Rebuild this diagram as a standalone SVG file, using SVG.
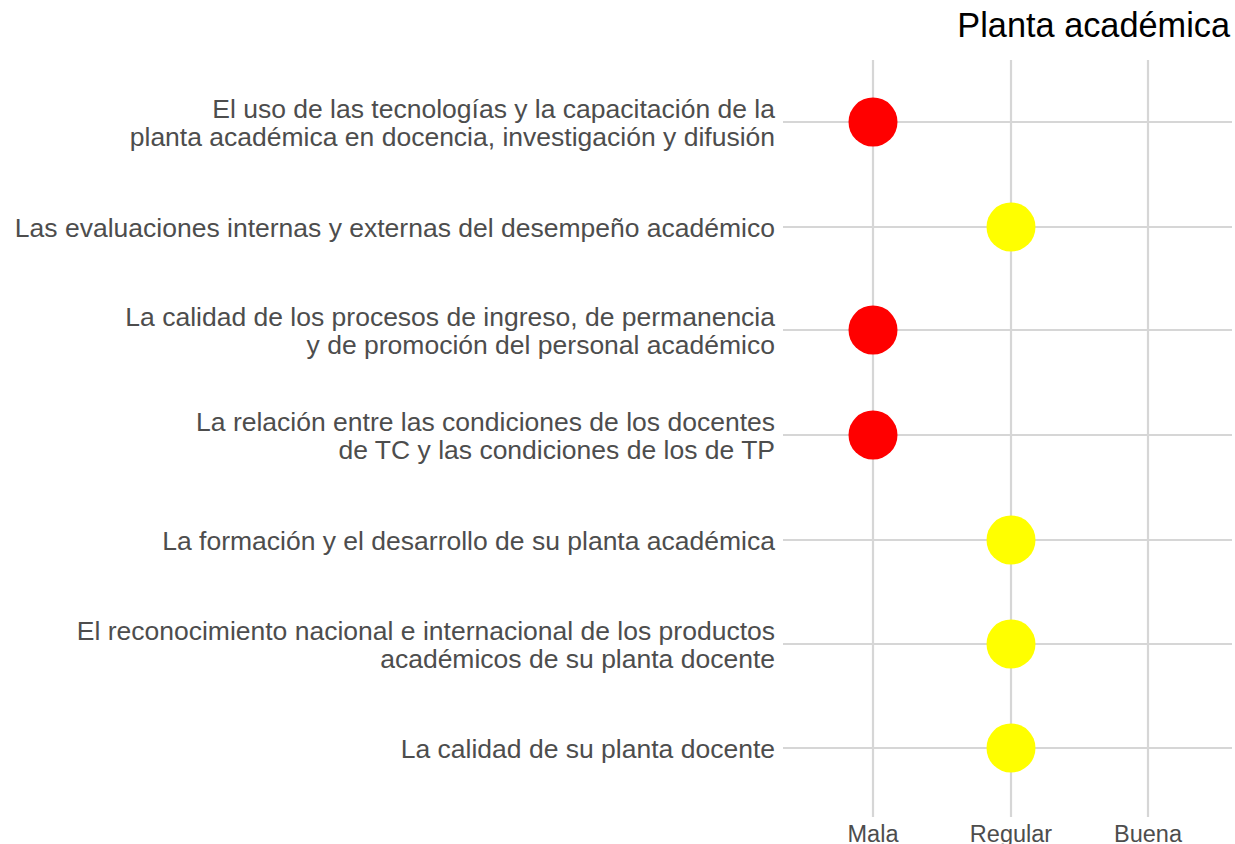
<svg xmlns="http://www.w3.org/2000/svg" width="1235" height="844" viewBox="0 0 1235 844">
<style>
.grid{stroke:#d6d6d6;stroke-width:2.2;fill:none}
.lab{font-family:"Liberation Sans",Arial,sans-serif;font-size:26.5px;fill:#4d4d4d;text-anchor:end}
.ax{font-family:"Liberation Sans",Arial,sans-serif;font-size:23.5px;fill:#4d4d4d;text-anchor:middle}
.title{font-family:"Liberation Sans",Arial,sans-serif;font-size:34.3px;fill:#000;text-anchor:end}
.red{fill:#ff0000}
.yel{fill:#ffff00}
</style>
<rect width="1235" height="844" fill="#fff"/>
<g id="connectors">
<line class="grid" x1="873" y1="60" x2="873" y2="817"/>
<line class="grid" x1="1011" y1="60" x2="1011" y2="817"/>
<line class="grid" x1="1148" y1="60" x2="1148" y2="817"/>
<line class="grid" x1="783" y1="122" x2="1232" y2="122"/>
<line class="grid" x1="783" y1="227" x2="1232" y2="227"/>
<line class="grid" x1="783" y1="330" x2="1232" y2="330"/>
<line class="grid" x1="783" y1="435" x2="1232" y2="435"/>
<line class="grid" x1="783" y1="540" x2="1232" y2="540"/>
<line class="grid" x1="783" y1="644" x2="1232" y2="644"/>
<line class="grid" x1="783" y1="748" x2="1232" y2="748"/>
</g>
<text class="title" x="1230" y="37">Planta académica</text>
<g id="row1"><text class="lab" x="775" y="117.5">El uso de las tecnologías y la capacitación de la</text><text class="lab" x="775" y="146">planta académica en docencia, investigación y difusión</text><circle class="red" cx="873" cy="122" r="24.5"/></g>
<g id="row2"><text class="lab" x="775" y="237">Las evaluaciones internas y externas del desempeño académico</text><circle class="yel" cx="1011" cy="227" r="24.5"/></g>
<g id="row3"><text class="lab" x="775" y="325.5">La calidad de los procesos de ingreso, de permanencia</text><text class="lab" x="775" y="354">y de promoción del personal académico</text><circle class="red" cx="873" cy="330" r="24.5"/></g>
<g id="row4"><text class="lab" x="775" y="430.5">La relación entre las condiciones de los docentes</text><text class="lab" x="775" y="459">de TC y las condiciones de los de TP</text><circle class="red" cx="873" cy="435" r="24.5"/></g>
<g id="row5"><text class="lab" x="775" y="550">La formación y el desarrollo de su planta académica</text><circle class="yel" cx="1011" cy="540" r="24.5"/></g>
<g id="row6"><text class="lab" x="775" y="639.5">El reconocimiento nacional e internacional de los productos</text><text class="lab" x="775" y="668">académicos de su planta docente</text><circle class="yel" cx="1011" cy="644" r="24.5"/></g>
<g id="row7"><text class="lab" x="775" y="758">La calidad de su planta docente</text><circle class="yel" cx="1011" cy="748" r="24.5"/></g>
<g id="axis">
<text class="ax" x="873" y="842">Mala</text>
<text class="ax" x="1011" y="842">Regular</text>
<text class="ax" x="1148" y="842">Buena</text>
</g>
</svg>
